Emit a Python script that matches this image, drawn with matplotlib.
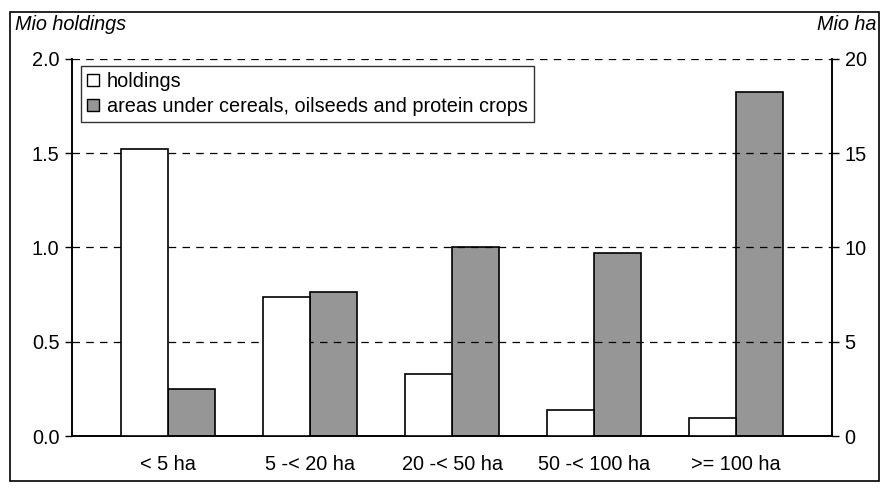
import matplotlib
matplotlib.use("Agg")
import matplotlib.pyplot as plt
import numpy as np
from matplotlib.patches import Rectangle, Patch

plt.rcParams['font.family'] = ['Liberation Sans', 'DejaVu Sans']

categories = ["< 5 ha", "5 -< 20 ha", "20 -< 50 ha", "50 -< 100 ha", ">= 100 ha"]
holdings = [1.52, 0.74, 0.33, 0.14, 0.095]          # Mio holdings (left axis)
areas = [2.5, 7.65, 10.0, 9.7, 18.25]               # Mio ha (right axis)
left_ticks = [0.0, 0.5, 1.0, 1.5, 2.0]
right_ticks = [0, 5, 10, 15, 20]

W, H = 892, 488
fig = plt.figure(figsize=(W / 100, H / 100), dpi=100)
ax = fig.add_axes([72 / W, 1 - 436 / H, 760 / W, 377 / H])
ax2 = ax.twinx()

x = np.arange(len(categories))
bw = 0.33
gray = "#969696"

ax.bar(x - bw / 2, holdings, width=bw, color="white", edgecolor="black", linewidth=1.2, zorder=3)
ax2.bar(x + bw / 2, areas, width=bw, color=gray, edgecolor="black", linewidth=1.2, zorder=3)

ax.set_xlim(-0.675, len(categories) - 1 + 0.675)
ax.set_ylim(0, 2.0)
ax2.set_ylim(0, 20)
ax.set_yticks(left_ticks)
ax.set_yticklabels([f"{v:.1f}" for v in left_ticks])
ax2.set_yticks(right_ticks)
ax2.set_yticklabels([str(v) for v in right_ticks])
ax.set_xticks(x)
ax.set_xticklabels(categories)

fs = 14.3
ax.tick_params(axis='y', direction='out', length=5, width=1, labelsize=fs, pad=4)
ax2.tick_params(axis='y', direction='out', length=5, width=1, labelsize=fs, pad=4)
ax.tick_params(axis='x', length=0, labelsize=fs, pad=14)

for v in left_ticks[1:]:
    ax.axhline(v, color="black", linestyle=(0, (6, 5)), linewidth=0.9, zorder=1)

for a in (ax, ax2):
    a.spines['top'].set_visible(False)
    for s in ('left', 'right', 'bottom'):
        a.spines[s].set_linewidth(1.2)
        a.spines[s].set_color("black")
ax.set_zorder(ax2.get_zorder() + 1)
ax.patch.set_visible(False)

fig.text(15 / W, 1 - 24 / H, "Mio holdings", ha="left", va="center", fontsize=fs, style="italic")
fig.text(876 / W, 1 - 24 / H, "Mio ha", ha="right", va="center", fontsize=fs, style="italic")

handles = [Patch(facecolor="white", edgecolor="black", linewidth=1),
           Patch(facecolor=gray, edgecolor="black", linewidth=1)]
leg = ax.legend(handles, ["holdings", "areas under cereals, oilseeds and protein crops"],
                loc="upper left", bbox_to_anchor=(9 / 760, 1 - 7 / 377), fontsize=fs,
                frameon=True, fancybox=False, handlelength=0.6, handleheight=0.6,
                handletextpad=0.4, borderpad=0.3, labelspacing=0.3, borderaxespad=0)
leg.get_frame().set_edgecolor("black")
leg.get_frame().set_linewidth(1.0)
leg.set_zorder(5)

fig.patches.append(Rectangle((10 / W, 1 - 481 / H), 869 / W, 469 / H, transform=fig.transFigure,
                             fill=False, edgecolor="black", linewidth=1.2))

fig.savefig("out.png", dpi=100)
